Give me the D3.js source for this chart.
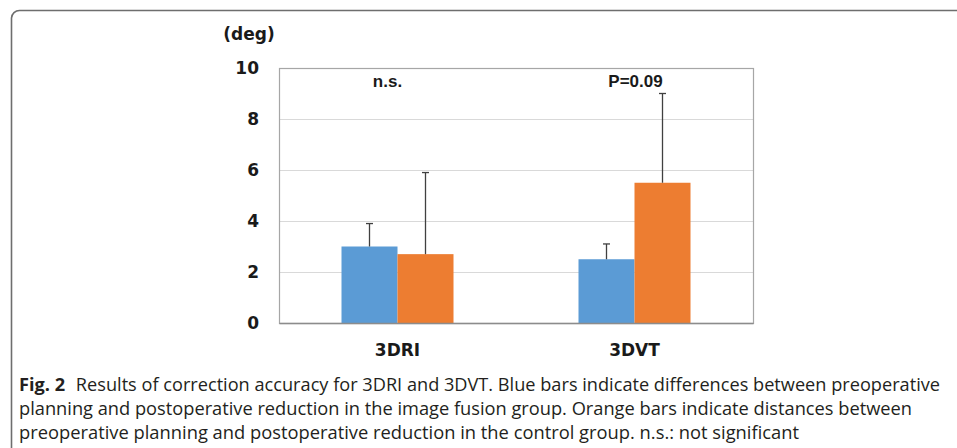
<!DOCTYPE html>
<html>
<head>
<meta charset="utf-8">
<script src="https://cdn.jsdelivr.net/npm/d3@7"></script>
<style>
  html, body { margin: 0; padding: 0; background: #fff; }
  svg { display: block; }
</style>
</head>
<body>
<div id="chart"></div>
<script>
// chart values
const categories = ['3DRI', '3DVT'];
const groups = ['Image fusion', 'Control'];
const fusionMean = [3.0, 2.5];
const fusionSD = [0.9, 0.6];
const controlMean = [2.7, 5.5];
const controlSD = [3.2, 3.5];
const yTicks = [0, 2, 4, 6, 8, 10];
const pLabels = ['n.s.', 'P=0.09'];
const captionLines = [
    'Results of correction accuracy for 3DRI and 3DVT. Blue bars indicate differences between preoperative',
    'planning and postoperative reduction in the image fusion group. Orange bars indicate distances between',
    'preoperative planning and postoperative reduction in the control group. n.s.: not significant'
];

const W = 957, H = 448;
const plot = { left: 279, right: 753, top: 68, bottom: 323 };
const colors = ['#5b9bd5', '#ed7d31'];

const svg = d3.select('#chart')
    .append('svg')
    .attr('width', W)
    .attr('height', H);

// figure frame (left + top with rounded corner)
svg.append('path')
    .attr('d', 'M11.5,448 V18 A8,8 0 0 1 19.5,10.5 H957')
    .attr('fill', 'none')
    .attr('stroke', '#6e6e6e')
    .attr('stroke-width', 1.6);

const x = d3.scaleBand()
    .domain(categories)
    .range([plot.left, plot.right]);

const xInner = d3.scaleBand()
    .domain(groups)
    .range([-56, 56]);

const y = d3.scaleLinear()
    .domain([0, 10])
    .range([plot.bottom, plot.top]);

// gridlines
svg.append('g')
    .selectAll('line')
    .data(yTicks.filter(t => t > 0 && t < 10))
    .enter()
    .append('line')
    .attr('x1', plot.left)
    .attr('x2', plot.right)
    .attr('y1', d => y(d) + 0.5)
    .attr('y2', d => y(d) + 0.5)
    .attr('stroke', '#d9d9d9')
    .attr('stroke-width', 1);

// plot border
svg.append('rect')
    .attr('x', plot.left + 0.5)
    .attr('y', plot.top + 0.5)
    .attr('width', plot.right - plot.left)
    .attr('height', plot.bottom - plot.top)
    .attr('fill', 'none')
    .attr('stroke', '#a6a6a6')
    .attr('stroke-width', 1.2);

// bars
const rows = [];
categories.forEach((c, i) => {
    rows.push({ cat: c, group: groups[0], mean: fusionMean[i], sd: fusionSD[i], color: colors[0] });
    rows.push({ cat: c, group: groups[1], mean: controlMean[i], sd: controlSD[i], color: colors[1] });
});
const centre = c => x(c) + x.bandwidth() / 2;

svg.append('g')
    .selectAll('rect')
    .data(rows)
    .enter()
    .append('rect')
    .attr('x', d => centre(d.cat) + xInner(d.group))
    .attr('y', d => y(d.mean))
    .attr('width', xInner.bandwidth())
    .attr('height', d => y(0) - y(d.mean))
    .attr('fill', d => d.color);

// error bars (upper only)
const err = svg.append('g')
    .attr('stroke', '#404040')
    .attr('stroke-width', 1.3);
rows.forEach(d => {
    const cx = centre(d.cat) + xInner(d.group) + xInner.bandwidth() / 2;
    err.append('line')
        .attr('x1', cx).attr('x2', cx)
        .attr('y1', y(d.mean)).attr('y2', y(d.mean + d.sd));
    err.append('line')
        .attr('x1', cx - 3.5).attr('x2', cx + 3.5)
        .attr('y1', y(d.mean + d.sd)).attr('y2', y(d.mean + d.sd));
});

// y axis labels
const yAxis = svg.append('g')
    .attr('transform', `translate(${plot.left},0)`)
    .call(d3.axisLeft(y).tickValues(yTicks).tickSize(0).tickPadding(20));
yAxis.select('.domain').remove();
yAxis.selectAll('text')
    .attr('font-family', '"DejaVu Sans", sans-serif')
    .attr('font-weight', 'bold')
    .attr('font-size', 17)
    .attr('fill', '#1a1a1a');

svg.append('text')
    .attr('x', 249)
    .attr('y', 40)
    .attr('text-anchor', 'middle')
    .attr('font-family', '"DejaVu Sans", sans-serif')
    .attr('font-weight', 'bold')
    .attr('font-size', 17)
    .attr('fill', '#1a1a1a')
    .text('(deg)');

// x axis
const xAxis = svg.append('g')
    .attr('transform', `translate(0,${plot.bottom})`)
    .call(d3.axisBottom(x).tickSize(0).tickPadding(21));
xAxis.select('.domain')
    .attr('stroke', '#8c8c8c')
    .attr('stroke-width', 1.4);
xAxis.selectAll('text')
    .attr('font-family', '"DejaVu Sans", sans-serif')
    .attr('font-weight', 'bold')
    .attr('font-size', 17)
    .attr('fill', '#1a1a1a');

// significance labels
const annDx = [-10, 1];
svg.append('g')
    .selectAll('text')
    .data(pLabels)
    .enter()
    .append('text')
    .attr('x', (d, i) => centre(categories[i]) + annDx[i])
    .attr('y', 87)
    .attr('text-anchor', 'middle')
    .attr('font-family', '"Liberation Sans", Arial, sans-serif')
    .attr('font-weight', 'bold')
    .attr('font-size', 17)
    .attr('fill', '#1a1a1a')
    .text(d => d);

// caption
const capWidths = [921, 893, 780];
const capBase = [391, 415, 439];
captionLines.forEach((line, i) => {
    const t = svg.append('text')
        .attr('x', 19)
        .attr('y', capBase[i])
        .attr('font-family', '"Open Sans", sans-serif')
        .attr('font-size', 18)
        .attr('fill', '#231f20')
        .attr('textLength', capWidths[i])
        .attr('lengthAdjust', 'spacingAndGlyphs');
    if (i === 0) {
        t.append('tspan').attr('font-weight', 'bold').text('Fig. 2');
        t.append('tspan').attr('dx', 6).text(' ' + line);
    } else {
        t.text(line);
    }
});
</script>
</body>
</html>
